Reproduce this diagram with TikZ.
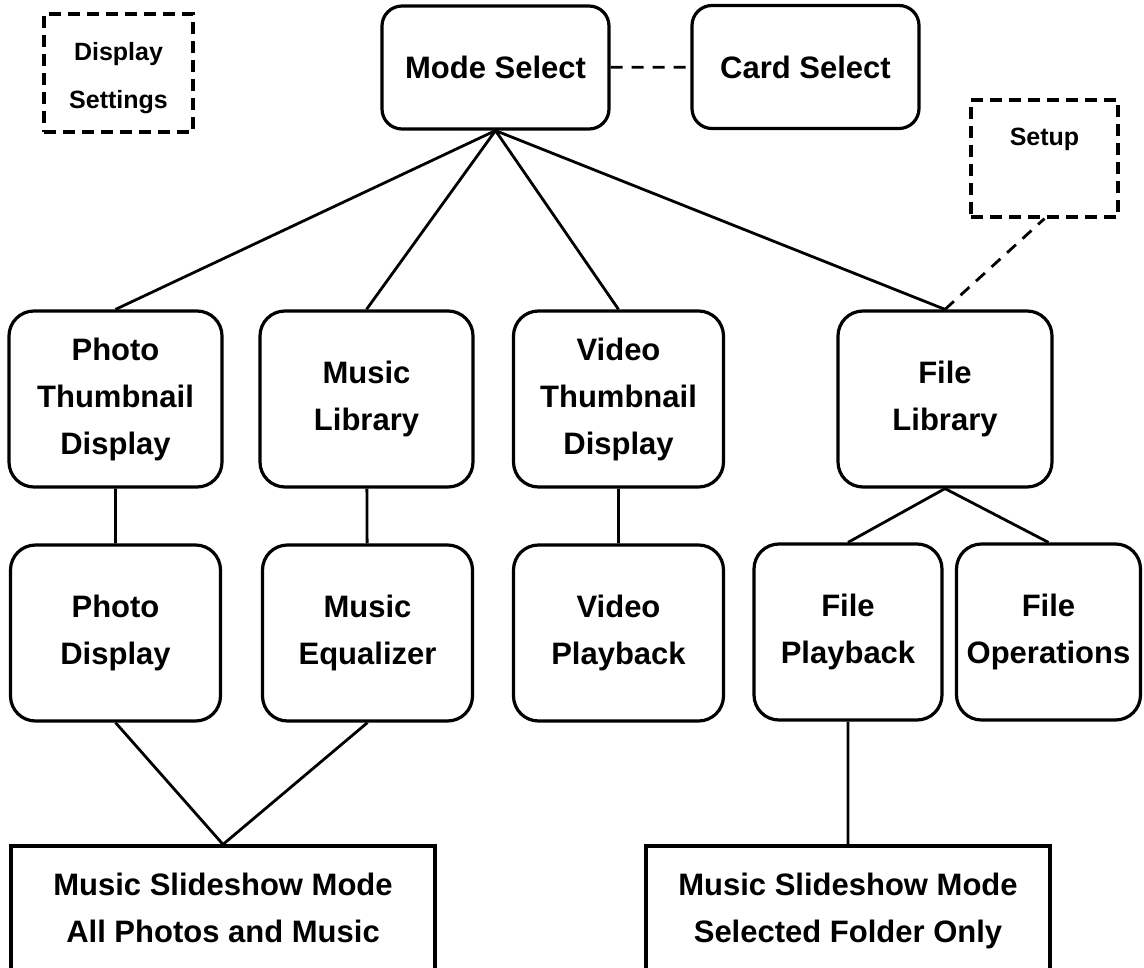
\documentclass[tikz,border=0pt]{standalone}
\usepackage{fontspec}
\setmainfont{Liberation Sans}
\begin{document}
\begin{tikzpicture}
            [x=1pt, y=-1pt,
             main/.style ={draw, line width=3.2pt, rounded corners=25pt, align=center, inner sep=0pt,
                           minimum width=210pt, minimum height=176pt, font=\bfseries\fontsize{31}{47}\selectfont},
             headbox/.style ={main, rounded corners=20pt, minimum width=227pt, minimum height=123pt},
             side/.style ={draw, line width=3.2pt, dash pattern=on 12pt off 7pt, align=center, inner sep=0pt,
                           font=\bfseries\fontsize{25}{48}\selectfont},
             slide/.style ={main, sharp corners, minimum height=144pt, text depth=21pt},
             link/.style ={line width=2.8pt},
             dlink/.style ={line width=2.8pt, dash pattern=on 12pt off 9pt}]
            \useasboundingbox (0,0) rectangle (1144,968);
            \node[side, minimum width=149pt, minimum height=118pt, text height=76pt] (disp) at (118.5,73) {Display\\Settings};
            \node[headbox] (mode) at (495.5,67.5) {Mode Select};
            \node[headbox] (card) at (805.5,67) {Card Select};
            \node[side, minimum width=147pt, minimum height=117pt, text depth=43pt] (setup) at (1044.5,158.5) {Setup};
            \node[main, minimum width=213pt] (photo) at (115.5,399) {Photo\\Thumbnail\\Display};
            \node[main, minimum width=213pt] (mlib) at (366.5,399) {Music\\Library};
            \node[main] (video) at (618.5,399) {Video\\Thumbnail\\Display};
            \node[main, minimum width=214pt] (flib) at (945,399) {File\\Library};
            \node[main] (pdisp) at (115.5,633) {Photo\\Display};
            \node[main] (meq) at (367.5,633) {Music\\Equalizer};
            \node[main] (vplay) at (618.5,633) {Video\\Playback};
            \node[main, minimum width=188pt] (fplay) at (848,632) {File\\Playback};
            \node[main, minimum width=184pt] (fops) at (1048.5,632) {File\\Operations};
            \node[slide, minimum width=424pt] (sall) at (223,918) {Music Slideshow Mode\\All Photos and Music};
            \node[slide, minimum width=404pt] (ssel) at (848,918) {Music Slideshow Mode\\Selected Folder Only};
            \draw[dlink] (mode) to (card) (flib.north) to (setup.south);
            \draw[link] (mode.south) to (photo.north) (mode.south) to (mlib.north)
                        (mode.south) to (video.north) (mode.south) to (flib.north);
            \draw[link] (photo) to (pdisp) (mlib) to (meq) (video) to (vplay);
            \draw[link] (flib.south) to (fplay.north) (flib.south) to (fops.north);
            \draw[link] (pdisp.south) to (sall.north) (meq.south) to (sall.north) (fplay) to (ssel);
        \end{tikzpicture}
\end{document}
